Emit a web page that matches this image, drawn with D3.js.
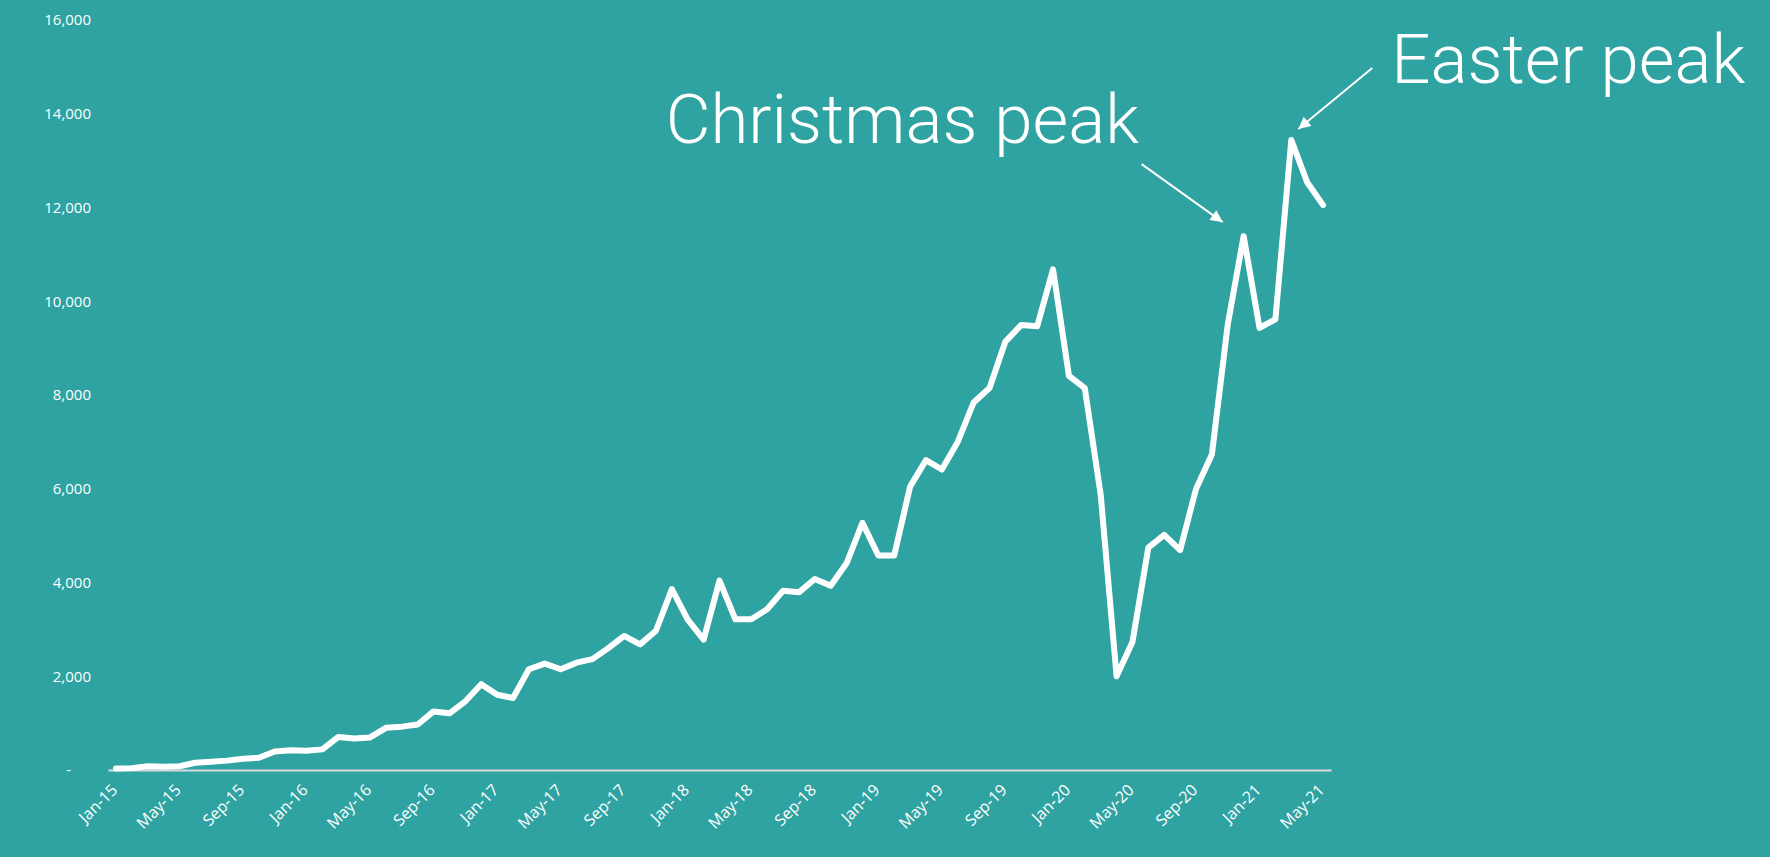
<!DOCTYPE html>
<html>
<head>
<meta charset="utf-8">
<script src="https://cdn.jsdelivr.net/npm/d3@7"></script>
<style>
  html, body { margin: 0; padding: 0; background: #2fa3a2; }
  svg { display: block; }
</style>
</head>
<body>
<div id="chart"></div>
<script>
// Monthly categories, Jan-15 .. May-21
const months = [
  'Jan-15', 'Feb-15', 'Mar-15', 'Apr-15', 'May-15', 'Jun-15', 'Jul-15', 'Aug-15', 'Sep-15', 'Oct-15', 'Nov-15', 'Dec-15',
  'Jan-16', 'Feb-16', 'Mar-16', 'Apr-16', 'May-16', 'Jun-16', 'Jul-16', 'Aug-16', 'Sep-16', 'Oct-16', 'Nov-16', 'Dec-16',
  'Jan-17', 'Feb-17', 'Mar-17', 'Apr-17', 'May-17', 'Jun-17', 'Jul-17', 'Aug-17', 'Sep-17', 'Oct-17', 'Nov-17', 'Dec-17',
  'Jan-18', 'Feb-18', 'Mar-18', 'Apr-18', 'May-18', 'Jun-18', 'Jul-18', 'Aug-18', 'Sep-18', 'Oct-18', 'Nov-18', 'Dec-18',
  'Jan-19', 'Feb-19', 'Mar-19', 'Apr-19', 'May-19', 'Jun-19', 'Jul-19', 'Aug-19', 'Sep-19', 'Oct-19', 'Nov-19', 'Dec-19',
  'Jan-20', 'Feb-20', 'Mar-20', 'Apr-20', 'May-20', 'Jun-20', 'Jul-20', 'Aug-20', 'Sep-20', 'Oct-20', 'Nov-20', 'Dec-20',
  'Jan-21', 'Feb-21', 'Mar-21', 'Apr-21', 'May-21',
];

// values
const values = [
  30, 40, 80, 70, 80, 155, 175, 200, 240, 260, 395, 420,
  410, 440, 705, 670, 695, 900, 925, 970, 1250, 1210, 1465, 1830,
  1605, 1535, 2150, 2270, 2150, 2290, 2365, 2600, 2860, 2680, 2970, 3860,
  3210, 2780, 4040, 3215, 3215, 3430, 3825, 3790, 4075, 3930, 4410, 5275,
  4575, 4575, 6045, 6610, 6410, 7000, 7840, 8150, 9140, 9495, 9465, 10680,
  8410, 8145, 5875, 2000, 2730, 4745, 5015, 4690, 5995, 6730, 9505, 11390,
  9430, 9615, 13440, 12540, 12050,
];

const yTicks = [0, 2000, 4000, 6000, 8000, 10000, 12000, 14000, 16000];
const xTickLabels = [
  'Jan-15', 'May-15', 'Sep-15', 'Jan-16', 'May-16', 'Sep-16', 'Jan-17', 'May-17', 'Sep-17',
  'Jan-18', 'May-18', 'Sep-18', 'Jan-19', 'May-19', 'Sep-19', 'Jan-20', 'May-20', 'Sep-20',
  'Jan-21', 'May-21',
];

// annotations: label, the month it points at
const notes = [
  { label: 'Christmas peak', month: 'Dec-20' },
  { label: 'Easter peak', month: 'Mar-21' },
];

const width = 1770;
const height = 857;
const white = '#ffffff';
const tickFont = '"Open Sans", "DejaVu Sans", sans-serif';

const svg = d3.select('#chart')
  .append('svg')
  .attr('width', width)
  .attr('height', height);

svg.append('rect')
  .attr('width', width)
  .attr('height', height)
  .attr('fill', '#2fa3a2');

const x = d3.scalePoint()
  .domain(months)
  .range([108, 1331])
  .padding(0.5);

const y = d3.scaleLinear()
  .domain([0, 16000])
  .range([770, 20]);

// y axis, no line, accounting style zero
const yAxis = svg.append('g')
  .attr('transform', 'translate(91,0)')
  .call(d3.axisLeft(y)
    .tickValues(yTicks)
    .tickSize(0)
    .tickPadding(0)
    .tickFormat(d => (d === 0 ? '-' : d3.format(',')(d))));

yAxis.select('.domain').remove();
yAxis.selectAll('text')
  .attr('fill', white)
  .style('font-family', tickFont)
  .style('font-size', '15px')
  .attr('dx', d => (d === 0 ? -20 : 0));

// x axis
const xAxis = svg.append('g')
  .attr('transform', `translate(0,${y(0)})`)
  .call(d3.axisBottom(x)
    .tickValues(xTickLabels)
    .tickSize(0)
    .tickSizeOuter(0));

xAxis.select('.domain')
  .attr('stroke', '#d9d9d9')
  .attr('stroke-width', 2);

xAxis.selectAll('text')
  .attr('fill', white)
  .attr('x', 0)
  .attr('y', 0)
  .attr('dy', '0.35em')
  .attr('text-anchor', 'end')
  .attr('transform', 'translate(-2,17) rotate(-45)')
  .style('font-family', tickFont)
  .style('font-size', '16px');

// the series
const line = d3.line()
  .x((d, i) => x(months[i]))
  .y(d => y(d));

svg.append('path')
  .datum(values)
  .attr('fill', 'none')
  .attr('stroke', white)
  .attr('stroke-width', 6)
  .attr('stroke-linejoin', 'round')
  .attr('stroke-linecap', 'round')
  .attr('d', line);

// arrow heads
svg.append('defs')
  .append('marker')
  .attr('id', 'head')
  .attr('viewBox', '0 0 10 10')
  .attr('refX', 10)
  .attr('refY', 5)
  .attr('markerWidth', 8)
  .attr('markerHeight', 6)
  .attr('markerUnits', 'strokeWidth')
  .attr('orient', 'auto')
  .append('path')
  .attr('d', 'M0,0 L10,5 L0,10 Z')
  .attr('fill', white);

// annotation text and arrows, offsets from the peak they mark
const noteLayout = [
  { tx: -578, ty: -93, ax0: -102, ay0: -72, ax1: -21, ay1: -14 },
  { tx: 100, ty: -57, ax0: 81, ay0: -72, ax1: 7, ay1: -11 },
];

const noteG = svg.append('g')
  .selectAll('g')
  .data(notes)
  .join('g')
  .attr('transform', d => {
    const i = months.indexOf(d.month);
    return `translate(${x(d.month)},${y(values[i])})`;
  });

noteG.append('text')
  .attr('x', (d, i) => noteLayout[i].tx)
  .attr('y', (d, i) => noteLayout[i].ty)
  .attr('fill', white)
  .style('font-family', 'Roboto, "Open Sans", sans-serif')
  .style('font-weight', 300)
  .style('font-size', '69px')
  .text(d => d.label);

noteG.append('line')
  .attr('x1', (d, i) => noteLayout[i].ax0)
  .attr('y1', (d, i) => noteLayout[i].ay0)
  .attr('x2', (d, i) => noteLayout[i].ax1)
  .attr('y2', (d, i) => noteLayout[i].ay1)
  .attr('stroke', white)
  .attr('stroke-width', 2)
  .attr('marker-end', 'url(#head)');
</script>
</body>
</html>
